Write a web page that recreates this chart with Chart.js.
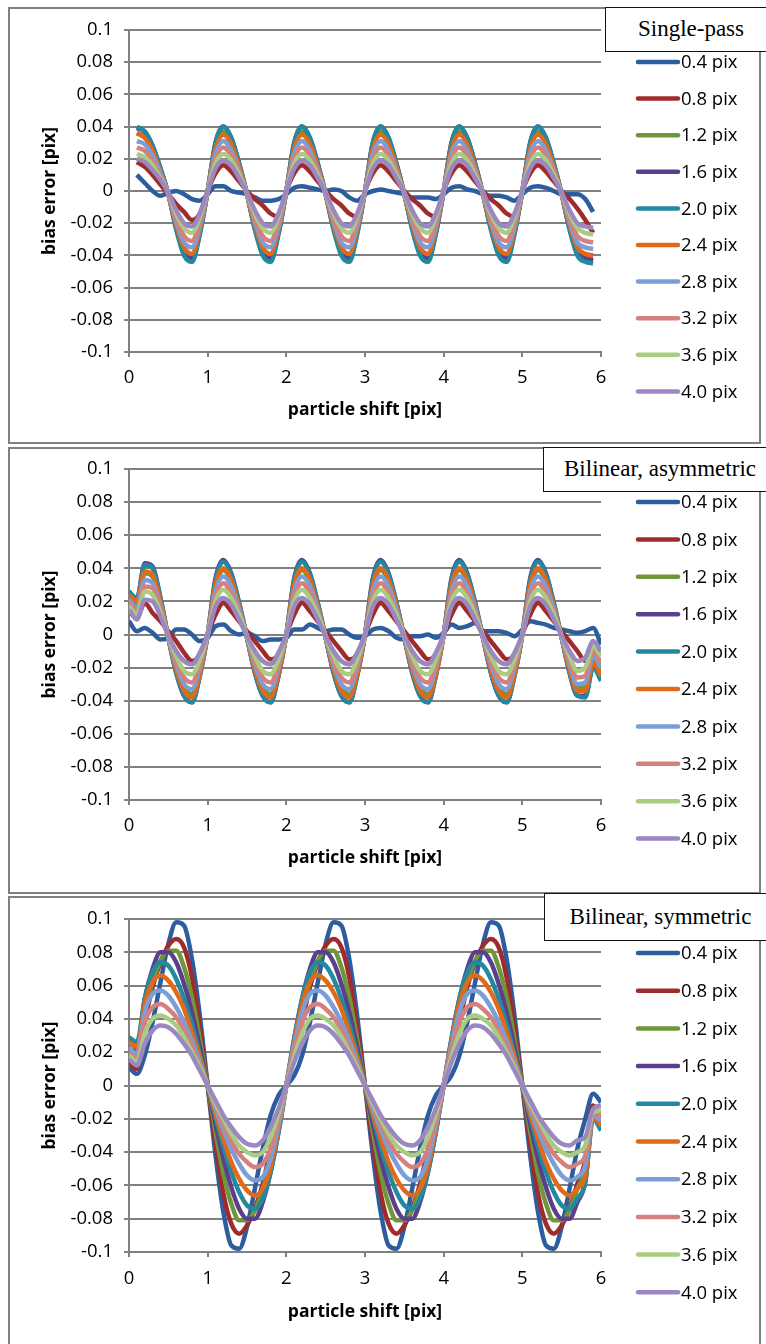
<!DOCTYPE html>
<html>
<head>
<meta charset="utf-8">
<title>bias error vs particle shift</title>
<script src="https://cdn.jsdelivr.net/npm/chart.js@4.4.1/dist/chart.umd.min.js"></script>
<style>
  html, body { margin: 0; padding: 0; background: #fff; }
  body { position: relative; width: 766px; height: 1344px; overflow: hidden; }
  .plot { position: absolute; left: 0; width: 766px; }
  .frame { position: absolute; left: 8px; width: 753px; border: 2px solid #808080; box-sizing: border-box; }
  .tag { position: absolute; background: #fff; border: 1.5px solid #111; box-sizing: border-box;
         font-family: "Liberation Serif", "Times New Roman", serif; font-size: 23px; text-align: center; color: #000; }
</style>
</head>
<body>
<div class="plot" style="top:0;height:444px"><canvas id="singlePass"></canvas></div>
<div class="plot" style="top:446px;height:448px"><canvas id="bilinAsym"></canvas></div>
<div class="plot" style="top:894px;height:450px"><canvas id="bilinSym"></canvas></div>

<div class="frame" style="top:7px;height:437px"></div>
<div class="frame" style="top:447px;height:447px"></div>
<div class="frame" style="top:896px;height:500px"></div>

<div class="tag" style="left:605px;top:7px;width:172px;height:45px;line-height:42px">Single-pass</div>
<div class="tag" style="left:543px;top:447px;width:234px;height:45px;line-height:42px">Bilinear, asymmetric</div>
<div class="tag" style="left:544px;top:893px;width:233px;height:48px;line-height:45px">Bilinear, symmetric</div>

<script>
// DATA

const sizeLabels = ["0.4 pix", "0.8 pix", "1.2 pix", "1.6 pix", "2.0 pix",
                    "2.4 pix", "2.8 pix", "3.2 pix", "3.6 pix", "4.0 pix"];

const colours = ["#2c5d9e", "#a02b2b", "#70963a", "#5b3f8c", "#23899f",
                 "#e06a1a", "#7b9ed6", "#d5807f", "#a9cd80", "#9b88c2"];

// x positions (particle shift, pix)
const shiftSP = [0.1, 0.2, 0.3, 0.4, 0.5, 0.6, 0.7, 0.8, 0.9,
  1.0, 1.1, 1.2, 1.3, 1.4, 1.5, 1.6, 1.7, 1.8, 1.9,
  2.0, 2.1, 2.2, 2.3, 2.4, 2.5, 2.6, 2.7, 2.8, 2.9,
  3.0, 3.1, 3.2, 3.3, 3.4, 3.5, 3.6, 3.7, 3.8, 3.9,
  4.0, 4.1, 4.2, 4.3, 4.4, 4.5, 4.6, 4.7, 4.8, 4.9,
  5.0, 5.1, 5.2, 5.3, 5.4, 5.5, 5.6, 5.7, 5.8, 5.9];

const shiftBL = [0.0, 0.1, 0.2, 0.3, 0.4, 0.5, 0.6, 0.7, 0.8, 0.9,
  1.0, 1.1, 1.2, 1.3, 1.4, 1.5, 1.6, 1.7, 1.8, 1.9,
  2.0, 2.1, 2.2, 2.3, 2.4, 2.5, 2.6, 2.7, 2.8, 2.9,
  3.0, 3.1, 3.2, 3.3, 3.4, 3.5, 3.6, 3.7, 3.8, 3.9,
  4.0, 4.1, 4.2, 4.3, 4.4, 4.5, 4.6, 4.7, 4.8, 4.9,
  5.0, 5.1, 5.2, 5.3, 5.4, 5.5, 5.6, 5.7, 5.8, 5.9, 6.0];

// SINGLE-PASS (bias error, pix)
const sp04 = [0.010, 0.005, 0.000, -0.003, -0.001, 0.000, -0.002, -0.005, -0.006,
  -0.002, 0.003, 0.003, 0.000, -0.001, -0.002, -0.004, -0.006, -0.006, -0.005,
  -0.002, 0.002, 0.003, 0.002, 0.001, 0.000, 0.001, 0.000, -0.004, -0.006,
  -0.002, 0.000, 0.001, 0.000, -0.001, -0.002, -0.004, -0.004, -0.004, -0.005,
  -0.002, 0.002, 0.003, 0.001, 0.000, -0.002, -0.003, -0.003, -0.004, -0.006,
  -0.002, 0.002, 0.003, 0.002, 0.000, -0.002, -0.002, -0.002, -0.005, -0.013];
const sp08 = [0.018, 0.015, 0.010, 0.004, -0.002, -0.008, -0.013, -0.018, -0.014,
  0.000, 0.011, 0.016, 0.012, 0.006, 0.000, -0.005, -0.009, -0.014, -0.016,
  0.000, 0.011, 0.016, 0.012, 0.006, 0.000, -0.005, -0.009, -0.014, -0.016,
  0.000, 0.011, 0.016, 0.012, 0.006, 0.000, -0.005, -0.009, -0.014, -0.016,
  0.000, 0.011, 0.016, 0.012, 0.006, 0.000, -0.005, -0.009, -0.014, -0.016,
  0.000, 0.011, 0.016, 0.012, 0.006, 0.000, -0.005, -0.011, -0.018, -0.026];
const sp12 = [0.036, 0.034, 0.026, 0.013, -0.002, -0.022, -0.036, -0.040, -0.025,
  0.000, 0.028, 0.037, 0.030, 0.016, -0.002, -0.022, -0.036, -0.040, -0.025,
  0.000, 0.028, 0.037, 0.030, 0.016, -0.002, -0.022, -0.036, -0.040, -0.025,
  0.000, 0.028, 0.037, 0.030, 0.016, -0.002, -0.022, -0.036, -0.040, -0.025,
  0.000, 0.028, 0.037, 0.030, 0.016, -0.002, -0.022, -0.036, -0.040, -0.025,
  0.000, 0.028, 0.037, 0.030, 0.016, -0.002, -0.022, -0.036, -0.040, -0.041];
const sp16 = [0.039, 0.037, 0.028, 0.014, -0.002, -0.023, -0.038, -0.042, -0.026,
  0.000, 0.030, 0.040, 0.033, 0.017, -0.002, -0.023, -0.038, -0.042, -0.026,
  0.000, 0.030, 0.040, 0.033, 0.017, -0.002, -0.023, -0.038, -0.042, -0.026,
  0.000, 0.030, 0.040, 0.033, 0.017, -0.002, -0.023, -0.038, -0.042, -0.026,
  0.000, 0.030, 0.040, 0.033, 0.017, -0.002, -0.023, -0.038, -0.042, -0.026,
  0.000, 0.030, 0.040, 0.033, 0.017, -0.002, -0.023, -0.038, -0.042, -0.043];
const sp20 = [0.040, 0.037, 0.028, 0.014, -0.002, -0.024, -0.040, -0.044, -0.027,
  0.000, 0.030, 0.040, 0.033, 0.017, -0.002, -0.024, -0.040, -0.044, -0.027,
  0.000, 0.030, 0.040, 0.033, 0.017, -0.002, -0.024, -0.040, -0.044, -0.027,
  0.000, 0.030, 0.040, 0.033, 0.017, -0.002, -0.024, -0.040, -0.044, -0.027,
  0.000, 0.030, 0.040, 0.033, 0.017, -0.002, -0.024, -0.040, -0.044, -0.027,
  0.000, 0.030, 0.040, 0.033, 0.017, -0.002, -0.024, -0.040, -0.044, -0.045];
const sp24 = [0.036, 0.033, 0.025, 0.012, -0.002, -0.021, -0.035, -0.039, -0.024,
  0.000, 0.026, 0.035, 0.029, 0.015, -0.002, -0.021, -0.035, -0.039, -0.024,
  0.000, 0.026, 0.035, 0.029, 0.015, -0.002, -0.021, -0.035, -0.039, -0.024,
  0.000, 0.026, 0.035, 0.029, 0.015, -0.002, -0.021, -0.035, -0.039, -0.024,
  0.000, 0.026, 0.035, 0.029, 0.015, -0.002, -0.021, -0.035, -0.039, -0.024,
  0.000, 0.026, 0.035, 0.029, 0.015, -0.002, -0.021, -0.035, -0.039, -0.040];
const sp28 = [0.031, 0.029, 0.022, 0.011, -0.002, -0.019, -0.032, -0.035, -0.022,
  0.000, 0.023, 0.031, 0.025, 0.013, -0.002, -0.019, -0.032, -0.035, -0.022,
  0.000, 0.023, 0.031, 0.025, 0.013, -0.002, -0.019, -0.032, -0.035, -0.022,
  0.000, 0.023, 0.031, 0.025, 0.013, -0.002, -0.019, -0.032, -0.035, -0.022,
  0.000, 0.023, 0.031, 0.025, 0.013, -0.002, -0.019, -0.032, -0.035, -0.022,
  0.000, 0.023, 0.031, 0.025, 0.013, -0.002, -0.019, -0.032, -0.035, -0.036];
const sp32 = [0.027, 0.025, 0.019, 0.009, -0.002, -0.017, -0.028, -0.031, -0.019,
  0.000, 0.020, 0.027, 0.022, 0.012, -0.002, -0.017, -0.028, -0.031, -0.019,
  0.000, 0.020, 0.027, 0.022, 0.012, -0.002, -0.017, -0.028, -0.031, -0.019,
  0.000, 0.020, 0.027, 0.022, 0.012, -0.002, -0.017, -0.028, -0.031, -0.019,
  0.000, 0.020, 0.027, 0.022, 0.012, -0.002, -0.017, -0.028, -0.031, -0.019,
  0.000, 0.020, 0.027, 0.022, 0.012, -0.002, -0.017, -0.028, -0.031, -0.032];
const sp36 = [0.023, 0.021, 0.016, 0.008, -0.001, -0.014, -0.023, -0.026, -0.016,
  0.000, 0.017, 0.023, 0.019, 0.010, -0.001, -0.014, -0.023, -0.026, -0.016,
  0.000, 0.017, 0.023, 0.019, 0.010, -0.001, -0.014, -0.023, -0.026, -0.016,
  0.000, 0.017, 0.023, 0.019, 0.010, -0.001, -0.014, -0.023, -0.026, -0.016,
  0.000, 0.017, 0.023, 0.019, 0.010, -0.001, -0.014, -0.023, -0.026, -0.016,
  0.000, 0.017, 0.023, 0.019, 0.010, -0.001, -0.014, -0.023, -0.026, -0.027];
const sp40 = [0.020, 0.018, 0.013, 0.007, -0.001, -0.012, -0.020, -0.022, -0.014,
  0.000, 0.014, 0.019, 0.016, 0.008, -0.001, -0.012, -0.020, -0.022, -0.014,
  0.000, 0.014, 0.019, 0.016, 0.008, -0.001, -0.012, -0.020, -0.022, -0.014,
  0.000, 0.014, 0.019, 0.016, 0.008, -0.001, -0.012, -0.020, -0.022, -0.014,
  0.000, 0.014, 0.019, 0.016, 0.008, -0.001, -0.012, -0.020, -0.022, -0.014,
  0.000, 0.014, 0.019, 0.016, 0.008, -0.001, -0.012, -0.020, -0.022, -0.023];

// BILINEAR, ASYMMETRIC
const ba04 = [0.008, 0.002, 0.004, 0.001, -0.003, -0.002, 0.003, 0.003, 0.000, -0.004,
  -0.002, 0.005, 0.006, 0.002, 0.000, 0.001, -0.001, -0.004, -0.003, -0.003,
  -0.002, 0.003, 0.003, 0.006, 0.004, 0.002, 0.003, 0.003, 0.000, -0.002,
  -0.001, 0.003, 0.004, 0.002, -0.002, -0.003, -0.001, -0.001, 0.000, -0.002,
  0.001, 0.006, 0.004, 0.005, 0.007, 0.002, 0.002, 0.002, 0.001, -0.001,
  0.003, 0.008, 0.007, 0.006, 0.004, 0.003, 0.002, 0.001, 0.002, 0.004, -0.006];
const ba08 = [0.014, 0.010, 0.019, 0.013, 0.008, 0.002, -0.004, -0.011, -0.016, -0.012,
  0.000, 0.012, 0.019, 0.014, 0.008, 0.002, -0.004, -0.010, -0.015, -0.012,
  0.000, 0.012, 0.019, 0.014, 0.008, 0.002, -0.004, -0.010, -0.015, -0.012,
  0.000, 0.012, 0.019, 0.014, 0.008, 0.002, -0.004, -0.010, -0.015, -0.012,
  0.000, 0.012, 0.019, 0.014, 0.008, 0.002, -0.004, -0.010, -0.015, -0.012,
  0.000, 0.012, 0.019, 0.014, 0.008, 0.002, -0.004, -0.010, -0.016, -0.010, -0.020];
const ba12 = [0.022, 0.018, 0.037, 0.035, 0.019, -0.002, -0.020, -0.032, -0.036, -0.022,
  0.000, 0.029, 0.039, 0.032, 0.017, -0.002, -0.020, -0.032, -0.036, -0.022,
  0.000, 0.029, 0.039, 0.032, 0.017, -0.002, -0.020, -0.032, -0.036, -0.022,
  0.000, 0.029, 0.039, 0.032, 0.017, -0.002, -0.020, -0.032, -0.036, -0.022,
  0.000, 0.029, 0.039, 0.032, 0.017, -0.002, -0.020, -0.032, -0.036, -0.022,
  0.000, 0.029, 0.039, 0.032, 0.017, -0.002, -0.020, -0.032, -0.032, -0.015, -0.022];
const ba16 = [0.026, 0.021, 0.043, 0.041, 0.022, -0.002, -0.023, -0.037, -0.041, -0.025,
  0.000, 0.034, 0.045, 0.037, 0.019, -0.002, -0.023, -0.037, -0.041, -0.025,
  0.000, 0.034, 0.045, 0.037, 0.019, -0.002, -0.023, -0.037, -0.041, -0.025,
  0.000, 0.034, 0.045, 0.037, 0.019, -0.002, -0.023, -0.037, -0.041, -0.025,
  0.000, 0.034, 0.045, 0.037, 0.019, -0.002, -0.023, -0.037, -0.041, -0.025,
  0.000, 0.034, 0.045, 0.037, 0.019, -0.002, -0.023, -0.037, -0.037, -0.019, -0.027];
const ba20 = [0.026, 0.022, 0.042, 0.040, 0.022, -0.002, -0.023, -0.037, -0.041, -0.025,
  0.000, 0.033, 0.044, 0.036, 0.019, -0.002, -0.023, -0.037, -0.041, -0.025,
  0.000, 0.033, 0.044, 0.036, 0.019, -0.002, -0.023, -0.037, -0.041, -0.025,
  0.000, 0.033, 0.044, 0.036, 0.019, -0.002, -0.023, -0.037, -0.041, -0.025,
  0.000, 0.033, 0.044, 0.036, 0.019, -0.002, -0.023, -0.037, -0.041, -0.025,
  0.000, 0.033, 0.044, 0.036, 0.019, -0.002, -0.023, -0.037, -0.038, -0.020, -0.028];
const ba24 = [0.024, 0.020, 0.038, 0.036, 0.020, -0.002, -0.021, -0.034, -0.038, -0.024,
  0.000, 0.030, 0.040, 0.033, 0.017, -0.002, -0.021, -0.034, -0.038, -0.024,
  0.000, 0.030, 0.040, 0.033, 0.017, -0.002, -0.021, -0.034, -0.038, -0.024,
  0.000, 0.030, 0.040, 0.033, 0.017, -0.002, -0.021, -0.034, -0.038, -0.024,
  0.000, 0.030, 0.040, 0.033, 0.017, -0.002, -0.021, -0.034, -0.038, -0.024,
  0.000, 0.030, 0.040, 0.033, 0.017, -0.002, -0.021, -0.034, -0.034, -0.017, -0.025];
const ba28 = [0.021, 0.016, 0.033, 0.031, 0.017, -0.002, -0.018, -0.030, -0.033, -0.020,
  0.000, 0.026, 0.035, 0.029, 0.015, -0.002, -0.018, -0.030, -0.033, -0.020,
  0.000, 0.026, 0.035, 0.029, 0.015, -0.002, -0.018, -0.030, -0.033, -0.020,
  0.000, 0.026, 0.035, 0.029, 0.015, -0.002, -0.018, -0.030, -0.033, -0.020,
  0.000, 0.026, 0.035, 0.029, 0.015, -0.002, -0.018, -0.030, -0.033, -0.020,
  0.000, 0.026, 0.035, 0.029, 0.015, -0.002, -0.018, -0.030, -0.029, -0.013, -0.020];
const ba32 = [0.019, 0.014, 0.029, 0.028, 0.015, -0.001, -0.016, -0.026, -0.029, -0.018,
  0.000, 0.023, 0.031, 0.025, 0.013, -0.001, -0.016, -0.026, -0.029, -0.018,
  0.000, 0.023, 0.031, 0.025, 0.013, -0.001, -0.016, -0.026, -0.029, -0.018,
  0.000, 0.023, 0.031, 0.025, 0.013, -0.001, -0.016, -0.026, -0.029, -0.018,
  0.000, 0.023, 0.031, 0.025, 0.013, -0.001, -0.016, -0.026, -0.029, -0.018,
  0.000, 0.023, 0.031, 0.025, 0.013, -0.001, -0.016, -0.026, -0.025, -0.010, -0.017];
const ba36 = [0.017, 0.012, 0.026, 0.024, 0.013, -0.001, -0.013, -0.022, -0.024, -0.015,
  0.000, 0.020, 0.027, 0.022, 0.012, -0.001, -0.013, -0.022, -0.024, -0.015,
  0.000, 0.020, 0.027, 0.022, 0.012, -0.001, -0.013, -0.022, -0.024, -0.015,
  0.000, 0.020, 0.027, 0.022, 0.012, -0.001, -0.013, -0.022, -0.024, -0.015,
  0.000, 0.020, 0.027, 0.022, 0.012, -0.001, -0.013, -0.022, -0.024, -0.015,
  0.000, 0.020, 0.027, 0.022, 0.012, -0.001, -0.013, -0.022, -0.020, -0.007, -0.013];
const ba40 = [0.015, 0.009, 0.021, 0.020, 0.011, -0.001, -0.010, -0.016, -0.018, -0.011,
  0.000, 0.017, 0.022, 0.018, 0.009, -0.001, -0.010, -0.016, -0.018, -0.011,
  0.000, 0.017, 0.022, 0.018, 0.009, -0.001, -0.010, -0.016, -0.018, -0.011,
  0.000, 0.017, 0.022, 0.018, 0.009, -0.001, -0.010, -0.016, -0.018, -0.011,
  0.000, 0.017, 0.022, 0.018, 0.009, -0.001, -0.010, -0.016, -0.018, -0.011,
  0.000, 0.017, 0.022, 0.018, 0.009, -0.001, -0.010, -0.016, -0.014, -0.004, -0.010];

// BILINEAR, SYMMETRIC
const bs04 = [0.011, 0.007, 0.018, 0.038, 0.062, 0.085, 0.098, 0.096, 0.076, 0.042,
  0.000, -0.042, -0.076, -0.096, -0.098, -0.085, -0.062, -0.038, -0.018, -0.006,
  0.000, 0.006, 0.018, 0.038, 0.062, 0.085, 0.098, 0.096, 0.076, 0.042,
  0.000, -0.042, -0.076, -0.096, -0.098, -0.085, -0.062, -0.038, -0.018, -0.006,
  0.000, 0.006, 0.018, 0.038, 0.062, 0.085, 0.098, 0.096, 0.076, 0.042,
  0.000, -0.042, -0.076, -0.096, -0.098, -0.085, -0.062, -0.038, -0.020, -0.005, -0.010];
const bs08 = [0.014, 0.010, 0.038, 0.059, 0.074, 0.084, 0.088, 0.083, 0.065, 0.035,
  0.000, -0.035, -0.065, -0.083, -0.089, -0.084, -0.074, -0.059, -0.038, -0.018,
  0.000, 0.018, 0.038, 0.059, 0.074, 0.084, 0.088, 0.083, 0.065, 0.035,
  0.000, -0.035, -0.065, -0.083, -0.089, -0.084, -0.074, -0.059, -0.038, -0.018,
  0.000, 0.018, 0.038, 0.059, 0.074, 0.084, 0.088, 0.083, 0.065, 0.035,
  0.000, -0.035, -0.065, -0.083, -0.089, -0.084, -0.074, -0.059, -0.045, -0.012, -0.020];
const bs12 = [0.018, 0.015, 0.044, 0.062, 0.075, 0.081, 0.081, 0.071, 0.053, 0.028,
  0.000, -0.028, -0.053, -0.071, -0.081, -0.081, -0.075, -0.062, -0.044, -0.023,
  0.000, 0.023, 0.044, 0.062, 0.075, 0.081, 0.081, 0.071, 0.053, 0.028,
  0.000, -0.028, -0.053, -0.071, -0.081, -0.081, -0.075, -0.062, -0.044, -0.023,
  0.000, 0.023, 0.044, 0.062, 0.075, 0.081, 0.081, 0.071, 0.053, 0.028,
  0.000, -0.028, -0.053, -0.071, -0.081, -0.081, -0.075, -0.062, -0.050, -0.015, -0.022];
const bs16 = [0.025, 0.022, 0.052, 0.070, 0.080, 0.080, 0.074, 0.061, 0.044, 0.023,
  0.000, -0.023, -0.044, -0.061, -0.074, -0.080, -0.080, -0.070, -0.052, -0.028,
  0.000, 0.028, 0.052, 0.070, 0.080, 0.080, 0.074, 0.061, 0.044, 0.023,
  0.000, -0.023, -0.044, -0.061, -0.074, -0.080, -0.080, -0.070, -0.052, -0.028,
  0.000, 0.028, 0.052, 0.070, 0.080, 0.080, 0.074, 0.061, 0.044, 0.023,
  0.000, -0.023, -0.044, -0.061, -0.074, -0.080, -0.080, -0.070, -0.058, -0.018, -0.025];
const bs20 = [0.029, 0.026, 0.052, 0.068, 0.074, 0.072, 0.064, 0.052, 0.037, 0.019,
  0.000, -0.019, -0.037, -0.052, -0.064, -0.072, -0.074, -0.068, -0.052, -0.028,
  0.000, 0.028, 0.052, 0.068, 0.074, 0.072, 0.064, 0.052, 0.037, 0.019,
  0.000, -0.019, -0.037, -0.052, -0.064, -0.072, -0.074, -0.068, -0.052, -0.028,
  0.000, 0.028, 0.052, 0.068, 0.074, 0.072, 0.064, 0.052, 0.037, 0.019,
  0.000, -0.019, -0.037, -0.052, -0.064, -0.072, -0.074, -0.068, -0.058, -0.020, -0.027];
const bs24 = [0.026, 0.023, 0.049, 0.062, 0.066, 0.063, 0.056, 0.046, 0.032, 0.017,
  0.000, -0.017, -0.032, -0.046, -0.056, -0.063, -0.066, -0.062, -0.049, -0.026,
  0.000, 0.026, 0.049, 0.062, 0.066, 0.063, 0.056, 0.046, 0.032, 0.017,
  0.000, -0.017, -0.032, -0.046, -0.056, -0.063, -0.066, -0.062, -0.049, -0.026,
  0.000, 0.026, 0.049, 0.062, 0.066, 0.063, 0.056, 0.046, 0.032, 0.017,
  0.000, -0.017, -0.032, -0.046, -0.056, -0.063, -0.066, -0.062, -0.054, -0.019, -0.024];
const bs28 = [0.023, 0.019, 0.044, 0.055, 0.057, 0.054, 0.047, 0.038, 0.027, 0.014,
  0.000, -0.014, -0.027, -0.038, -0.047, -0.054, -0.057, -0.055, -0.044, -0.024,
  0.000, 0.024, 0.044, 0.055, 0.057, 0.054, 0.047, 0.038, 0.027, 0.014,
  0.000, -0.014, -0.027, -0.038, -0.047, -0.054, -0.057, -0.055, -0.044, -0.024,
  0.000, 0.024, 0.044, 0.055, 0.057, 0.054, 0.047, 0.038, 0.027, 0.014,
  0.000, -0.014, -0.027, -0.038, -0.047, -0.054, -0.057, -0.055, -0.048, -0.018, -0.021];
const bs32 = [0.020, 0.016, 0.038, 0.047, 0.049, 0.046, 0.041, 0.033, 0.023, 0.012,
  0.000, -0.012, -0.023, -0.033, -0.041, -0.046, -0.049, -0.047, -0.038, -0.021,
  0.000, 0.021, 0.038, 0.047, 0.049, 0.046, 0.041, 0.033, 0.023, 0.012,
  0.000, -0.012, -0.023, -0.033, -0.041, -0.046, -0.049, -0.047, -0.038, -0.021,
  0.000, 0.021, 0.038, 0.047, 0.049, 0.046, 0.041, 0.033, 0.023, 0.012,
  0.000, -0.012, -0.023, -0.033, -0.041, -0.046, -0.049, -0.047, -0.042, -0.017, -0.018];
const bs36 = [0.018, 0.014, 0.031, 0.040, 0.042, 0.040, 0.036, 0.029, 0.020, 0.011,
  0.000, -0.011, -0.020, -0.029, -0.036, -0.040, -0.042, -0.040, -0.031, -0.017,
  0.000, 0.017, 0.031, 0.040, 0.042, 0.040, 0.036, 0.029, 0.020, 0.011,
  0.000, -0.011, -0.020, -0.029, -0.036, -0.040, -0.042, -0.040, -0.031, -0.017,
  0.000, 0.017, 0.031, 0.040, 0.042, 0.040, 0.036, 0.029, 0.020, 0.011,
  0.000, -0.011, -0.020, -0.029, -0.036, -0.040, -0.042, -0.040, -0.036, -0.016, -0.015];
const bs40 = [0.016, 0.012, 0.025, 0.033, 0.036, 0.035, 0.031, 0.025, 0.018, 0.009,
  0.000, -0.009, -0.018, -0.025, -0.031, -0.035, -0.036, -0.033, -0.025, -0.014,
  0.000, 0.014, 0.025, 0.033, 0.036, 0.035, 0.031, 0.025, 0.018, 0.009,
  0.000, -0.009, -0.018, -0.025, -0.031, -0.035, -0.036, -0.033, -0.025, -0.014,
  0.000, 0.014, 0.025, 0.033, 0.036, 0.035, 0.031, 0.025, 0.018, 0.009,
  0.000, -0.009, -0.018, -0.025, -0.031, -0.035, -0.036, -0.033, -0.031, -0.014, -0.012];

// CHART SETUP

Chart.defaults.font.family = '"Open Sans", sans-serif';
Chart.defaults.font.size = 18.5;
Chart.defaults.color = "#000";

// legend drawn at the right, one line sample + label per series
const sideKey = {
  id: "sideKey",
  afterDraw(chart, args, opts) {
    const ctx = chart.ctx;
    ctx.save();
    ctx.font = '18.5px "Open Sans", sans-serif';
    ctx.textAlign = "left";
    ctx.textBaseline = "middle";
    ctx.lineCap = "round";
    chart.data.datasets.forEach((ds, i) => {
      const y = opts.top + i * opts.step;
      ctx.strokeStyle = ds.borderColor;
      ctx.lineWidth = 4.5;
      ctx.beginPath();
      ctx.moveTo(638, y);
      ctx.lineTo(678, y);
      ctx.stroke();
      ctx.fillStyle = "#000";
      ctx.fillText(ds.label, 681, y + 1);
    });
    ctx.restore();
  },
};

function drawPanel(id, shift, series, box) {
  new Chart(document.getElementById(id), {
    type: "line",
    data: {
      datasets: series.map((vals, i) => ({
        label: sizeLabels[i],
        data: vals.map((v, j) => ({ x: shift[j], y: v })),
        borderColor: colours[i],
        backgroundColor: colours[i],
        borderWidth: 4.5,
        pointRadius: 0,
        cubicInterpolationMode: "monotone",
        order: series.length - 1 - i,
      })),
    },
    options: {
      responsive: true,
      maintainAspectRatio: false,
      animation: false,
      events: [],
      layout: { padding: { left: 0, right: 165, top: box.top, bottom: 0 } },
      plugins: {
        legend: { display: false },
        tooltip: { enabled: false },
        sideKey: { top: box.keyTop, step: box.keyStep },
      },
      scales: {
        x: {
          type: "linear",
          min: 0,
          max: 6,
          ticks: { stepSize: 1, padding: box.xPad },
          grid: { drawOnChartArea: false, tickLength: 5, color: "#808080", lineWidth: 2 },
          border: { color: "#808080", width: 2 },
          title: {
            display: true,
            text: "particle shift [pix]",
            font: { size: 17.5, weight: "bold" },
            padding: { top: 0, bottom: box.titlePad },
          },
          afterFit: (s) => { s.height = box.xH; },
        },
        y: {
          min: -0.1,
          max: 0.1,
          ticks: { stepSize: 0.02, padding: 11, callback: (v) => String(+v.toFixed(2)) },
          grid: { tickLength: 5, color: "#808080", lineWidth: 2 },
          border: { color: "#808080", width: 2 },
          title: {
            display: true,
            text: "bias error [pix]",
            font: { size: 17.5, weight: "bold" },
            padding: { top: 39.5, bottom: 0 },
          },
          afterFit: (s) => { s.width = 129; },
        },
      },
    },
    plugins: [sideKey],
  });
}

drawPanel("singlePass", shiftSP,
  [sp04, sp08, sp12, sp16, sp20, sp24, sp28, sp32, sp36, sp40],
  { top: 30, xH: 92, xPad: 10, titlePad: 23.5, keyTop: 62, keyStep: 36.6 });

drawPanel("bilinAsym", shiftBL,
  [ba04, ba08, ba12, ba16, ba20, ba24, ba28, ba32, ba36, ba40],
  { top: 23, xH: 94, xPad: 10, titlePad: 25.5, keyTop: 56, keyStep: 37.4 });

drawPanel("bilinSym", shiftBL,
  [bs04, bs08, bs12, bs16, bs20, bs24, bs28, bs32, bs36, bs40],
  { top: 25, xH: 92, xPad: 11, titlePad: 21, keyTop: 59, keyStep: 37.7 });
</script>
</body>
</html>
